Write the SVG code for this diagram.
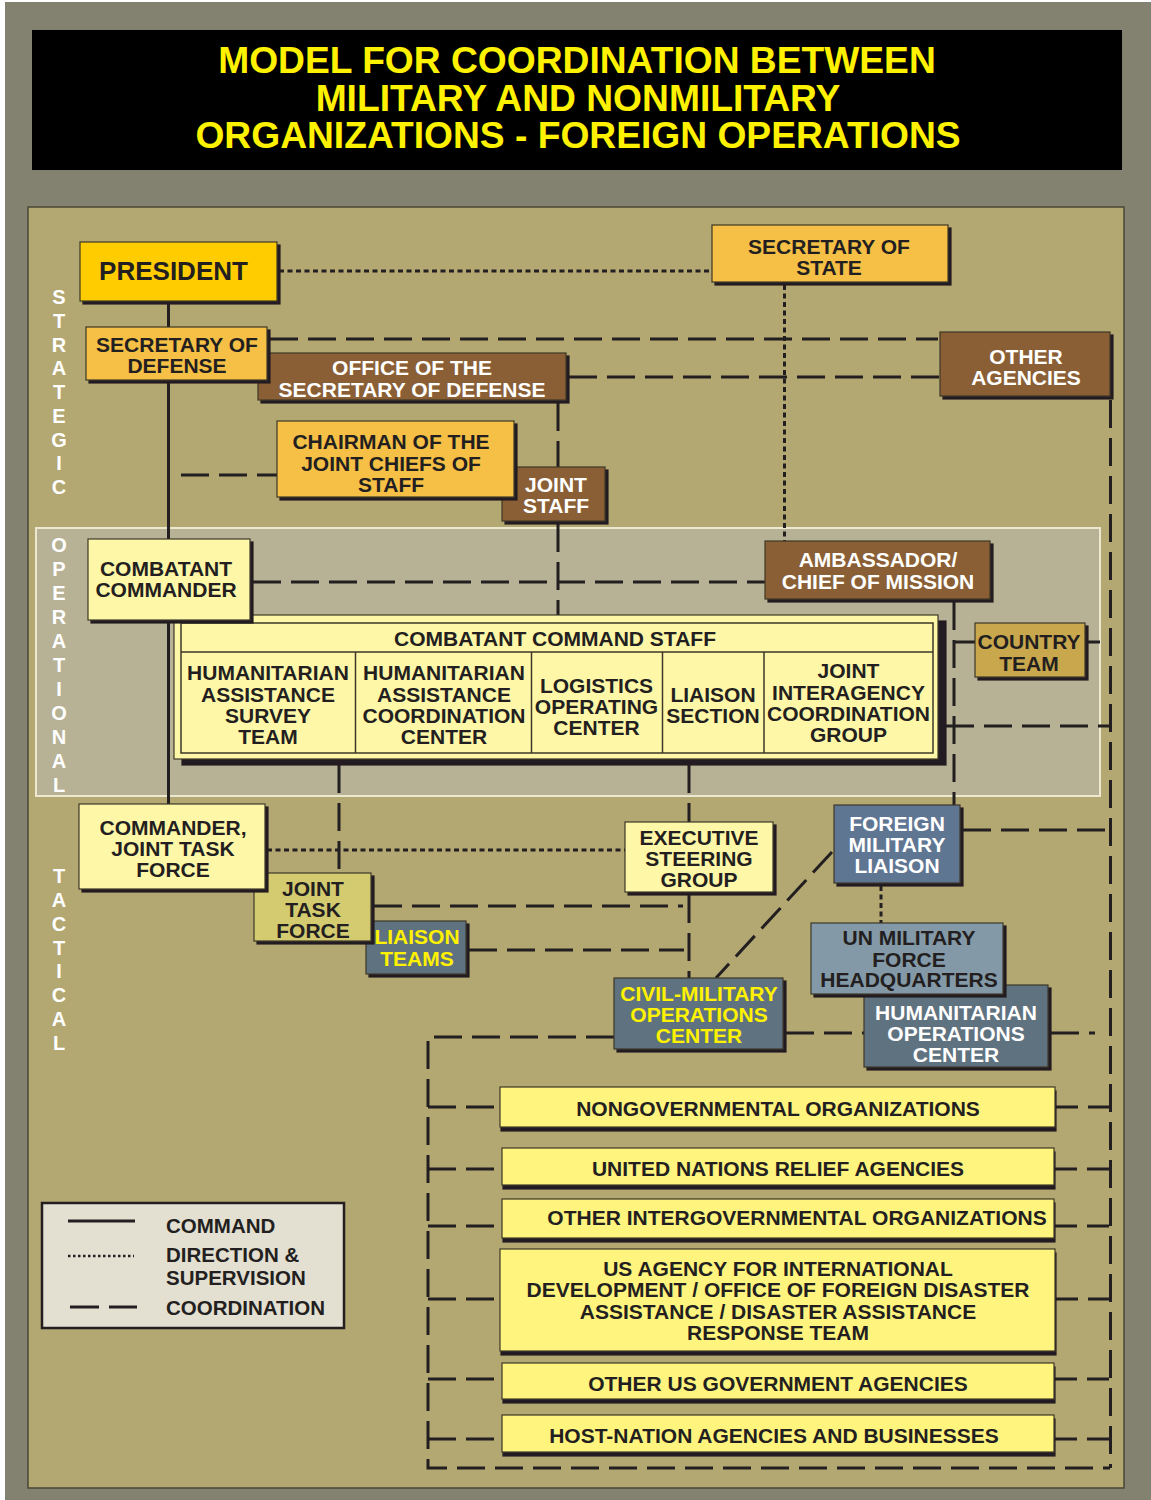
<svg xmlns="http://www.w3.org/2000/svg" width="1151" height="1500" viewBox="0 0 1151 1500">
<style>
text{font-family:"Liberation Sans",Arial,sans-serif;font-weight:bold;font-size:21px;text-anchor:middle;fill:#231f20}
.w{fill:#ffffff}.y{fill:#fff200}
.side{fill:#ffffff;font-size:20px}
.box{stroke:#3d3828;stroke-width:1.2}
.gold{fill:#ffcc00}.org{fill:#f5c045}.brn{fill:#8a5e34}.lt{fill:#fff7a8}.bot{fill:#fff47e}
.jtf{fill:#d4cb70}.ct{fill:#c9a84e}.fml{fill:#5e7693}.un{fill:#8399a7}.sl{fill:#5e727f}
.cmd{fill:none;stroke:#231f20;stroke-width:3}
.dot{fill:none;stroke:#231f20;stroke-width:3;stroke-dasharray:5 3.5}
.dsh{fill:none;stroke:#231f20;stroke-width:3;stroke-dasharray:28 10}
.leg{text-anchor:start;font-size:20.5px}
</style>
<defs>
<filter id="ds" x="-5%" y="-5%" width="115%" height="120%"><feFlood flood-color="#231f20"/><feComposite in2="SourceAlpha" operator="in"/><feOffset dx="3" dy="3"/><feMerge><feMergeNode/><feMergeNode in="SourceGraphic"/></feMerge></filter>
<filter id="ds2" x="-5%" y="-5%" width="115%" height="120%"><feFlood flood-color="#231f20"/><feComposite in2="SourceAlpha" operator="in"/><feOffset dx="8" dy="6"/><feMerge><feMergeNode/><feMergeNode in="SourceGraphic"/></feMerge></filter>
<filter id="ds3" x="-5%" y="-5%" width="115%" height="130%"><feFlood flood-color="#231f20"/><feComposite in2="SourceAlpha" operator="in"/><feOffset dx="1" dy="4"/><feMerge><feMergeNode/><feMergeNode in="SourceGraphic"/></feMerge></filter>
</defs>
<rect x="0" y="0" width="1151" height="1500" fill="#ffffff"/>
<rect x="5" y="2" width="1146" height="1498" fill="#838170"/>
<g id="title">
<rect x="32" y="30" width="1090" height="140" fill="#000000"/>
<text class="y" style="font-size:37.2px"><tspan x="577" y="73">MODEL FOR COORDINATION BETWEEN</tspan><tspan x="578" y="111">MILITARY AND NONMILITARY</tspan><tspan x="578" y="148">ORGANIZATIONS - FOREIGN OPERATIONS</tspan></text>
</g>
<rect x="28" y="207" width="1096" height="1281" fill="#b3a772" stroke="#4a4736" stroke-width="1.5"/>
<rect x="36" y="528" width="1064" height="268" fill="#b7b196" stroke="#ece8cf" stroke-width="2"/>
<g id="side-labels">
<text class="side" x="59" y="304">S</text><text class="side" x="59" y="328">T</text><text class="side" x="59" y="352">R</text><text class="side" x="59" y="375">A</text><text class="side" x="59" y="399">T</text><text class="side" x="59" y="423">E</text><text class="side" x="59" y="447">G</text><text class="side" x="59" y="470">I</text><text class="side" x="59" y="494">C</text>
<text class="side" x="59" y="552">O</text><text class="side" x="59" y="576">P</text><text class="side" x="59" y="600">E</text><text class="side" x="59" y="624">R</text><text class="side" x="59" y="648">A</text><text class="side" x="59" y="672">T</text><text class="side" x="59" y="696">I</text><text class="side" x="59" y="720">O</text><text class="side" x="59" y="744">N</text><text class="side" x="59" y="768">A</text><text class="side" x="59" y="792">L</text>
<text class="side" x="59" y="883">T</text><text class="side" x="59" y="907">A</text><text class="side" x="59" y="931">C</text><text class="side" x="59" y="955">T</text><text class="side" x="59" y="978">I</text><text class="side" x="59" y="1002">C</text><text class="side" x="59" y="1026">A</text><text class="side" x="59" y="1050">L</text>
</g>
<g id="connectors">
<path class="cmd" d="M168.5 301V804"/>
<path class="dot" d="M279 271H712"/>
<path class="dot" d="M784.5 285V541"/>
<path class="dot" d="M267 850H625"/>
<path class="dot" d="M881 886V923"/>
<path class="dsh" d="M270 339H938"/>
<path class="dsh" d="M569 377H940"/>
<path class="dsh" d="M558 403V467M558 524V615"/>
<path class="dsh" d="M181 475H277"/>
<path class="dsh" d="M253 582H765"/>
<path class="dsh" d="M954 602V805"/>
<path class="cmd" d="M955 642H975M1088 642H1100"/>
<path class="dsh" d="M946 726H1110"/>
<path class="dsh" d="M1110.5 400V1468"/>
<path class="dsh" d="M339 765V873"/>
<path class="dsh" d="M689 765V822M689 895V978"/>
<path class="dsh" d="M374 906H683"/>
<path class="dsh" d="M469 950H684"/>
<path class="dsh" d="M963 830H1110"/>
<path class="dsh" d="M832 852L716 978"/>
<path class="dsh" d="M614 1037H428V1468H1110"/>
<path class="dsh" d="M786 1033H864"/>
<path class="dsh" d="M1051 1033H1095"/>
<path class="dsh" d="M428 1107H500M428 1169H502M428 1226H502M428 1299H500M428 1379H502M428 1439H502"/>
<path class="dsh" style="stroke-dasharray:22 10" d="M1056 1107H1110M1055 1169H1110M1055 1226H1110M1056 1299H1110M1055 1379H1110M1055 1439H1110"/>
</g>
<g id="president"><rect class="box gold" filter="url(#ds)" x="80" y="242" width="197" height="59"/><text x="173.5" y="280" style="font-size:26px">PRESIDENT</text></g>
<g id="secstate"><rect class="box org" filter="url(#ds)" x="712" y="225" width="236" height="57"/><text x="829" y="254">SECRETARY OF</text><text x="829" y="275">STATE</text></g>
<g id="osd"><rect class="box brn" filter="url(#ds)" x="258" y="353" width="308" height="47"/><text class="w" x="412" y="375">OFFICE OF THE</text><text class="w" x="412" y="397">SECRETARY OF DEFENSE</text></g>
<g id="secdef"><rect class="box org" filter="url(#ds)" x="86" y="327" width="181" height="53"/><text x="177" y="352">SECRETARY OF</text><text x="177" y="373">DEFENSE</text></g>
<g id="jointstaff"><rect class="box brn" filter="url(#ds)" x="502" y="467" width="103" height="54"/><text class="w" x="556" y="492">JOINT</text><text class="w" x="556" y="513">STAFF</text></g>
<g id="cjcs"><rect class="box org" filter="url(#ds)" x="277" y="421" width="237" height="76"/><text x="391" y="449">CHAIRMAN OF THE</text><text x="391" y="471">JOINT CHIEFS OF</text><text x="391" y="492">STAFF</text></g>
<g id="otheragencies"><rect class="box brn" filter="url(#ds)" x="940" y="332" width="170" height="64"/><text class="w" x="1026" y="364">OTHER</text><text class="w" x="1026" y="385">AGENCIES</text></g>
<g id="ambassador"><rect class="box brn" filter="url(#ds)" x="765" y="541" width="225" height="58"/><text class="w" x="878" y="567">AMBASSADOR/</text><text class="w" x="878" y="589">CHIEF OF MISSION</text></g>
<g id="ccs">
<rect class="box lt" filter="url(#ds2)" x="174" y="615" width="764" height="144"/>
<rect x="181" y="623" width="752" height="130" fill="none" stroke="#3d3828" stroke-width="1.5"/>
<path d="M181 652H933M355.5 652V753M531.5 652V753M662.5 652V753M764 652V753" fill="none" stroke="#3d3828" stroke-width="1.5"/>
<text x="555" y="646">COMBATANT COMMAND STAFF</text>
<text x="268" y="680">HUMANITARIAN</text><text x="268" y="701.5">ASSISTANCE</text><text x="268" y="723">SURVEY</text><text x="268" y="744">TEAM</text>
<text x="444" y="680">HUMANITARIAN</text><text x="444" y="701.5">ASSISTANCE</text><text x="444" y="723">COORDINATION</text><text x="444" y="744">CENTER</text>
<text x="596.5" y="693">LOGISTICS</text><text x="596.5" y="714">OPERATING</text><text x="596.5" y="735">CENTER</text>
<text x="713" y="701.5">LIAISON</text><text x="713" y="722.5">SECTION</text>
<text x="848.5" y="678">JOINT</text><text x="848.5" y="700">INTERAGENCY</text><text x="848.5" y="721">COORDINATION</text><text x="848.5" y="742">GROUP</text>
</g>
<g id="cocom"><rect class="box lt" filter="url(#ds)" x="88" y="539" width="162" height="81"/><text x="166" y="576">COMBATANT</text><text x="166" y="597">COMMANDER</text></g>
<g id="countryteam"><rect class="box ct" filter="url(#ds)" x="975" y="623" width="110" height="54"/><text x="1029" y="649">COUNTRY</text><text x="1029" y="671">TEAM</text></g>
<g id="liaisonteams"><rect class="box sl" filter="url(#ds)" x="366" y="921" width="100" height="53"/><text class="y" x="417" y="944">LIAISON</text><text class="y" x="417" y="966">TEAMS</text></g>
<g id="jtf"><rect class="box jtf" filter="url(#ds)" x="254" y="873" width="117" height="68"/><text x="313" y="896">JOINT</text><text x="313" y="917">TASK</text><text x="313" y="938">FORCE</text></g>
<g id="comjtf"><rect class="box lt" filter="url(#ds)" x="79" y="804" width="186" height="85"/><text x="173" y="835">COMMANDER,</text><text x="173" y="856">JOINT TASK</text><text x="173" y="877">FORCE</text></g>
<g id="esg"><rect class="box lt" filter="url(#ds)" x="625" y="822" width="148" height="70"/><text x="699" y="845">EXECUTIVE</text><text x="699" y="866">STEERING</text><text x="699" y="887">GROUP</text></g>
<g id="fml"><rect class="box fml" filter="url(#ds)" x="834" y="805" width="126" height="78"/><text class="w" x="897" y="831">FOREIGN</text><text class="w" x="897" y="852">MILITARY</text><text class="w" x="897" y="873">LIAISON</text></g>
<g id="hoc"><rect class="box sl" filter="url(#ds)" x="864" y="985" width="184" height="82"/><text class="w" x="956" y="1020">HUMANITARIAN</text><text class="w" x="956" y="1041">OPERATIONS</text><text class="w" x="956" y="1062">CENTER</text></g>
<g id="unmfhq"><rect class="box un" filter="url(#ds)" x="811" y="923" width="192" height="71"/><text x="909" y="945">UN MILITARY</text><text x="909" y="967">FORCE</text><text x="909" y="987">HEADQUARTERS</text></g>
<g id="cmoc"><rect class="box sl" filter="url(#ds)" x="614" y="978" width="169" height="71"/><text class="y" x="699" y="1001">CIVIL-MILITARY</text><text class="y" x="699" y="1022">OPERATIONS</text><text class="y" x="699" y="1043">CENTER</text></g>
<g id="ngo"><rect class="box bot" filter="url(#ds3)" x="500" y="1087" width="555" height="40"/><text x="778" y="1116">NONGOVERNMENTAL ORGANIZATIONS</text></g>
<g id="unra"><rect class="box bot" filter="url(#ds3)" x="502" y="1148" width="552" height="37"/><text x="778" y="1176">UNITED NATIONS RELIEF AGENCIES</text></g>
<g id="oigo"><rect class="box bot" filter="url(#ds3)" x="502" y="1199" width="552" height="39"/><text x="797" y="1225">OTHER INTERGOVERNMENTAL ORGANIZATIONS</text></g>
<g id="usaid"><rect class="box bot" filter="url(#ds3)" x="500" y="1249" width="555" height="102"/><text x="778" y="1276">US AGENCY FOR INTERNATIONAL</text><text x="778" y="1297">DEVELOPMENT / OFFICE OF FOREIGN DISASTER</text><text x="778" y="1319">ASSISTANCE / DISASTER ASSISTANCE</text><text x="778" y="1340">RESPONSE TEAM</text></g>
<g id="ousg"><rect class="box bot" filter="url(#ds3)" x="502" y="1363" width="552" height="36"/><text x="778" y="1391">OTHER US GOVERNMENT AGENCIES</text></g>
<g id="host"><rect class="box bot" filter="url(#ds3)" x="502" y="1415" width="552" height="37"/><text x="774" y="1443">HOST-NATION AGENCIES AND BUSINESSES</text></g>
<g id="legend">
<rect x="42" y="1203" width="302" height="125" fill="#e3e0d2" stroke="#231f20" stroke-width="2.5"/>
<path class="cmd" d="M68 1221H135"/>
<path class="dot" style="stroke-width:2.5;stroke-dasharray:2.5 2.5" d="M68 1256H134"/>
<path class="cmd" d="M70 1307H99M109 1307H137"/>
<text class="leg" x="166" y="1233">COMMAND</text>
<text class="leg" x="166" y="1262">DIRECTION &amp;</text>
<text class="leg" x="166" y="1285">SUPERVISION</text>
<text class="leg" x="166" y="1315">COORDINATION</text>
</g>
</svg>
